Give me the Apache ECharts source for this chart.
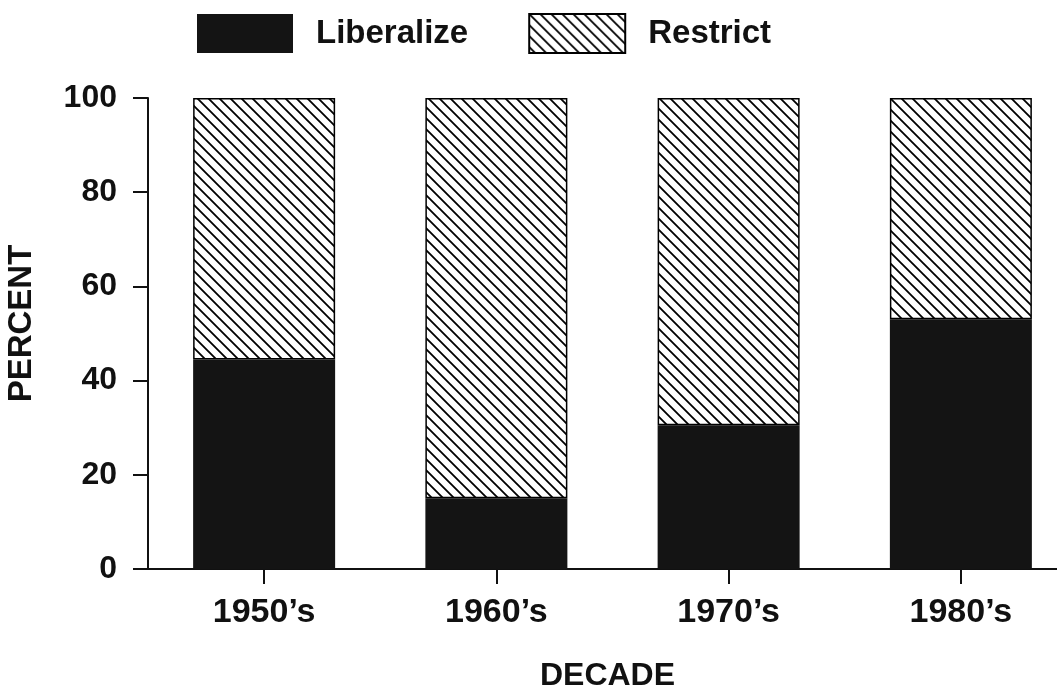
<!DOCTYPE html>
<html>
<head>
<meta charset="utf-8">
<script src="https://cdn.jsdelivr.net/npm/echarts@6/dist/echarts.min.js"></script>
<style>
    html, body { margin: 0; padding: 0; background: #fff; }
    #chart { width: 1057px; height: 692px; }
</style>
</head>
<body>
<div id="chart"></div>
<script>
var decades = ["1950\u2019s", "1960\u2019s", "1970\u2019s", "1980\u2019s"];
var liberalize = [44.5, 15, 30.5, 53];
var restrict = [55.5, 85, 69.5, 47];
var yTicks = [0, 20, 40, 60, 80, 100];

(function () {
    // 斜线填充
    var tile = document.createElement('canvas');
    tile.width = 11;
    tile.height = 11;
    var ctx = tile.getContext('2d');
    ctx.fillStyle = '#fff';
    ctx.fillRect(0, 0, 11, 11);
    ctx.strokeStyle = '#000';
    ctx.lineWidth = 1.8;
    ctx.beginPath();
    ctx.moveTo(-1, -1); ctx.lineTo(12, 12);
    ctx.moveTo(-2, 9); ctx.lineTo(2, 13);
    ctx.moveTo(9, -2); ctx.lineTo(13, 2);
    ctx.stroke();

    var font = '"Liberation Sans", Arial, sans-serif';
    var myChart = echarts.init(document.getElementById('chart'));
    var option = {
        animation: false,
        legend: {
            top: 8,
            left: 192,
            itemWidth: 96,
            itemHeight: 39,
            itemGap: 60,
            icon: 'rect',
            textStyle: {
                fontFamily: font,
                fontWeight: 'bold',
                fontSize: 33,
                color: '#111',
                padding: [0, 0, 0, 18]
            },
            data: ['Liberalize', 'Restrict']
        },
        grid: {
            left: 148,
            width: 929,
            top: 98,
            bottom: 123,
            outerBoundsMode: 'none'
        },
        xAxis: {
            type: 'category',
            data: decades,
            name: 'DECADE',
            nameLocation: 'middle',
            nameGap: 91,
            nameTextStyle: {
                fontFamily: font,
                fontWeight: 'bold',
                fontSize: 32,
                color: '#111',
                padding: [0, 0, 0, -10]
            },
            axisLine: { lineStyle: { color: '#111', width: 2 } },
            axisTick: { show: true, alignWithLabel: true, length: 15, lineStyle: { color: '#111', width: 2 } },
            axisLabel: {
                fontFamily: font,
                fontWeight: 'bold',
                fontSize: 34,
                color: '#111',
                margin: 27
            }
        },
        yAxis: {
            type: 'value',
            min: 0,
            max: 100,
            interval: 20,
            name: 'PERCENT',
            nameLocation: 'middle',
            nameGap: 110,
            nameTextStyle: {
                fontFamily: font,
                fontWeight: 'bold',
                fontSize: 33,
                color: '#111',
                padding: [0, 0, 0, 20]
            },
            splitLine: { show: false },
            axisLine: { show: true, lineStyle: { color: '#111', width: 2 } },
            axisTick: { show: true, length: 15, lineStyle: { color: '#111', width: 2 } },
            axisLabel: {
                fontFamily: font,
                fontWeight: 'bold',
                fontSize: 32,
                color: '#111',
                margin: 31,
                formatter: function (v) {
                    return yTicks.indexOf(v) >= 0 ? String(v) : '';
                }
            }
        },
        series: [
            {
                name: 'Liberalize',
                type: 'bar',
                stack: 'all',
                barWidth: 142,
                itemStyle: { color: '#141414' },
                data: liberalize
            },
            {
                name: 'Restrict',
                type: 'bar',
                stack: 'all',
                barWidth: 142,
                itemStyle: {
                    color: { image: tile, repeat: 'repeat' },
                    borderColor: '#000',
                    borderWidth: 1.5
                },
                data: restrict
            }
        ]
    };
    myChart.setOption(option);
    window.addEventListener('resize', function () {
        myChart.resize();
    });
})();
</script>
</body>
</html>
